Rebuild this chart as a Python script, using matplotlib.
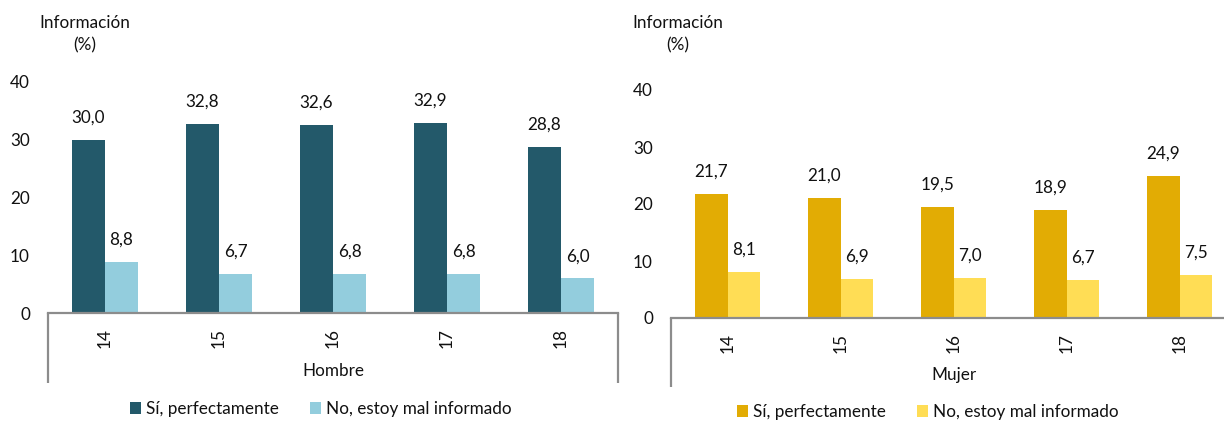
import matplotlib
matplotlib.use('Agg')
import matplotlib.pyplot as plt
import matplotlib.transforms as mtransforms
import numpy as np

plt.rcParams['font.family'] = ['Lato', 'DejaVu Sans']

edades = ['14', '15', '16', '17', '18']
hombre_si = [30.0, 32.8, 32.6, 32.9, 28.8]
hombre_no = [8.8, 6.7, 6.8, 6.8, 6.0]
mujer_si = [21.7, 21.0, 19.5, 18.9, 24.9]
mujer_no = [8.1, 6.9, 7.0, 6.7, 7.5]
serie_labels = ['Sí, perfectamente', 'No, estoy mal informado']

W, H = 1224, 421
FS = 12.3
TXT = '#111111'
AXIS_GRAY = '#8c8c8c'


def px_rect(x0, x1, y_top, y_bottom):
    # pixel box -> figure fraction rect
    return [x0 / W, (H - y_bottom) / H, (x1 - x0) / W, (y_bottom - y_top) / H]


def fmt(v):
    return f'{v:.1f}'.replace('.', ',')


def panel(fig, rect, xmax, si, no, colors, grupo, sep_depth, right_sep):
    ax = fig.add_axes(rect)
    x = np.arange(len(edades))
    w = 0.29
    b1 = ax.bar(x - w / 2, si, w, color=colors[0], label=serie_labels[0])
    b2 = ax.bar(x + w / 2, no, w, color=colors[1], label=serie_labels[1])
    for bars, vals in ((b1, si), (b2, no)):
        for b, v in zip(bars, vals):
            ax.annotate(fmt(v), (b.get_x() + b.get_width() / 2, v),
                        xytext=(0, 16), textcoords='offset points',
                        ha='center', va='center', fontsize=FS, color=TXT)
    ax.set_ylim(0, 40)
    ax.set_xlim(-0.5, xmax)
    ax.set_yticks([0, 10, 20, 30, 40])
    ax.set_xticks(x)
    ax.set_xticklabels(edades, rotation=90)
    ax.tick_params(axis='x', length=0, pad=11, labelsize=FS, labelcolor=TXT)
    ax.tick_params(axis='y', length=0, pad=13, labelsize=FS, labelcolor=TXT)
    for s in ('top', 'right', 'left'):
        ax.spines[s].set_visible(False)
    ax.spines['bottom'].set_color(AXIS_GRAY)
    ax.spines['bottom'].set_linewidth(1.6)

    # category group separators below the axis
    ax.plot([0, 0], [0, -sep_depth], transform=ax.transAxes, clip_on=False,
            color=AXIS_GRAY, lw=1.6, solid_capstyle='butt')
    if right_sep:
        ax.plot([1, 1], [0, -sep_depth], transform=ax.transAxes, clip_on=False,
                color=AXIS_GRAY, lw=1.6, solid_capstyle='butt')

    trans = mtransforms.blended_transform_factory(ax.transData, ax.transAxes)
    ax.text(2, -0.25, grupo, transform=trans, ha='center', va='center',
            fontsize=FS, color=TXT)
    return ax


fig = plt.figure(figsize=(W / 100, H / 100), dpi=100)

ax1 = panel(fig, px_rect(48, 618, 82, 313), 4.5, hombre_si, hombre_no,
            ('#23596a', '#93cddd'), 'Hombre', 0.303, True)
ax2 = panel(fig, px_rect(671, 1224, 90, 318), -0.5 + (1224 - 671) / 113,
            mujer_si, mujer_no, ('#e2ac04', '#ffdd55'), 'Mujer', 0.303, False)

for cx in (85, 678):
    fig.text(cx / W, 1 - 23 / H, 'Información', ha='center', va='center',
             fontsize=FS, color=TXT)
    fig.text(cx / W, 1 - 45 / H, '(%)', ha='center', va='center',
             fontsize=FS, color=TXT)

for ax, cx, cy in ((ax1, 321, 409), (ax2, 928, 412)):
    h, l = ax.get_legend_handles_labels()
    fig.legend(h, l, loc='center', bbox_to_anchor=(cx / W, 1 - cy / H),
               ncol=2, frameon=False, fontsize=FS, handlelength=0.65,
               handleheight=0.65, handletextpad=0.3, columnspacing=1.8,
               borderpad=0, labelcolor=TXT)

fig.savefig('out.png', dpi=100, facecolor='white')
